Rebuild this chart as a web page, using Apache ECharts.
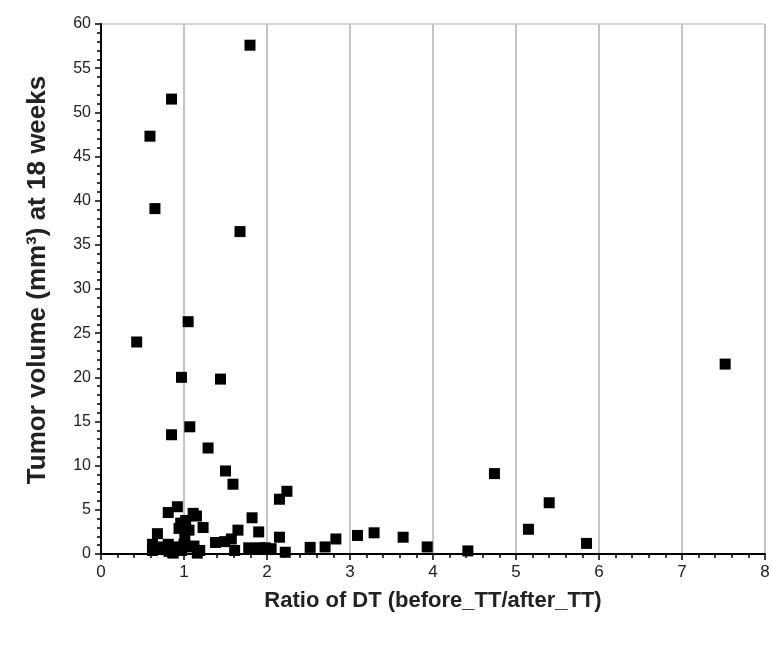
<!DOCTYPE html>
<html>
<head>
<meta charset="utf-8">
<script src="https://cdn.jsdelivr.net/npm/echarts@6/dist/echarts.min.js"></script>
<style>
  html, body { margin: 0; padding: 0; background: #fff; }
</style>
</head>
<body>
<div id="main" style="width: 773px; height: 647px;"></div>
<script>
  // ratio of DT (before_TT/after_TT)
  var ratioDT = [0.43, 0.59, 0.65, 0.85, 1.795, 1.675, 1.05, 0.97, 1.44, 1.07,
    0.85, 1.29, 1.50, 1.59, 2.24, 2.15, 1.82, 1.90, 2.15, 2.22,
    1.65, 1.61, 1.78, 1.84, 1.91, 1.98, 2.05, 1.38, 1.49, 1.57,
    1.23, 1.11, 1.15, 0.81, 0.92, 0.96, 1.02, 0.94, 1.06, 1.01,
    1.03, 1.12, 1.19, 1.16, 0.68, 0.62, 0.62, 0.71, 0.81, 0.82,
    0.87, 0.75, 0.92, 0.97, 1.00, 2.52, 2.70, 2.83, 3.09, 3.29,
    3.64, 3.93, 4.42, 4.74, 5.15, 5.40, 5.85, 7.52];
  // tumor volume (mm3) at 18 weeks
  var tumorVol = [24.0, 47.3, 39.1, 51.5, 57.6, 36.5, 26.3, 20.0, 19.8, 14.4,
    13.5, 12.0, 9.4, 7.9, 7.1, 6.2, 4.1, 2.5, 1.9, 0.2,
    2.7, 0.4, 0.7, 0.6, 0.7, 0.7, 0.6, 1.3, 1.4, 1.7,
    3.0, 4.6, 4.3, 4.7, 5.35, 3.5, 3.8, 2.9, 2.7, 1.9,
    0.8, 0.9, 0.4, 0.1, 2.3, 1.1, 0.4, 0.8, 1.1, 0.3,
    0.1, 0.5, 0.8, 0.4, 1.1, 0.75, 0.8, 1.7, 2.1, 2.4,
    1.9, 0.8, 0.35, 9.1, 2.8, 5.8, 1.2, 21.5];

  var pts = [];
  for (var i = 0; i < ratioDT.length; i++) {
    pts.push([ratioDT[i], tumorVol[i]]);
  }

  var myChart = echarts.init(document.getElementById('main'));
  var option = {
    backgroundColor: '#fff',
    animation: false,
    grid: {
      left: 101, right: 8, top: 24, bottom: 93,
      show: true,
      borderColor: '#b0b0b0',
      borderWidth: 1
    },
    xAxis: {
      type: 'value',
      min: 0, max: 8, interval: 1,
      name: 'Ratio of DT (before_TT/after_TT)',
      nameLocation: 'middle',
      nameGap: 36,
      nameTextStyle: { fontFamily: 'Arial', fontWeight: 'bold', fontSize: 22, color: '#222' },
      axisLine: { lineStyle: { color: '#000', width: 2 } },
      axisTick: { show: true, length: 6, lineStyle: { color: '#000', width: 1.5 } },
      minorTick: { show: true, splitNumber: 5, length: 4, lineStyle: { color: '#000', width: 1.5 } },
      axisLabel: { fontFamily: 'Arial', fontSize: 17, color: '#222', margin: 10 },
      splitLine: { show: true, lineStyle: { color: '#c4c4c4', width: 2 } }
    },
    yAxis: {
      type: 'value',
      min: 0, max: 60, interval: 5,
      name: 'Tumor volume (mm³) at 18 weeks',
      nameLocation: 'middle',
      nameGap: 50,
      nameTextStyle: { fontFamily: 'Arial', fontWeight: 'bold', fontSize: 26, color: '#222', padding: [0, 0, 0, 18] },
      axisLine: { lineStyle: { color: '#000', width: 2 } },
      axisTick: { show: true, length: 6, lineStyle: { color: '#000', width: 1.5 } },
      minorTick: { show: true, splitNumber: 5, length: 4, lineStyle: { color: '#000', width: 1.5 } },
      axisLabel: { fontFamily: 'Arial', fontSize: 16, color: '#222', margin: 10 },
      splitLine: { show: false }
    },
    series: [
      {
        type: 'scatter',
        symbol: 'rect',
        symbolSize: 11,
        itemStyle: { color: '#000', opacity: 1 },
        data: pts
      }
    ]
  };
  myChart.setOption(option);
</script>
</body>
</html>
